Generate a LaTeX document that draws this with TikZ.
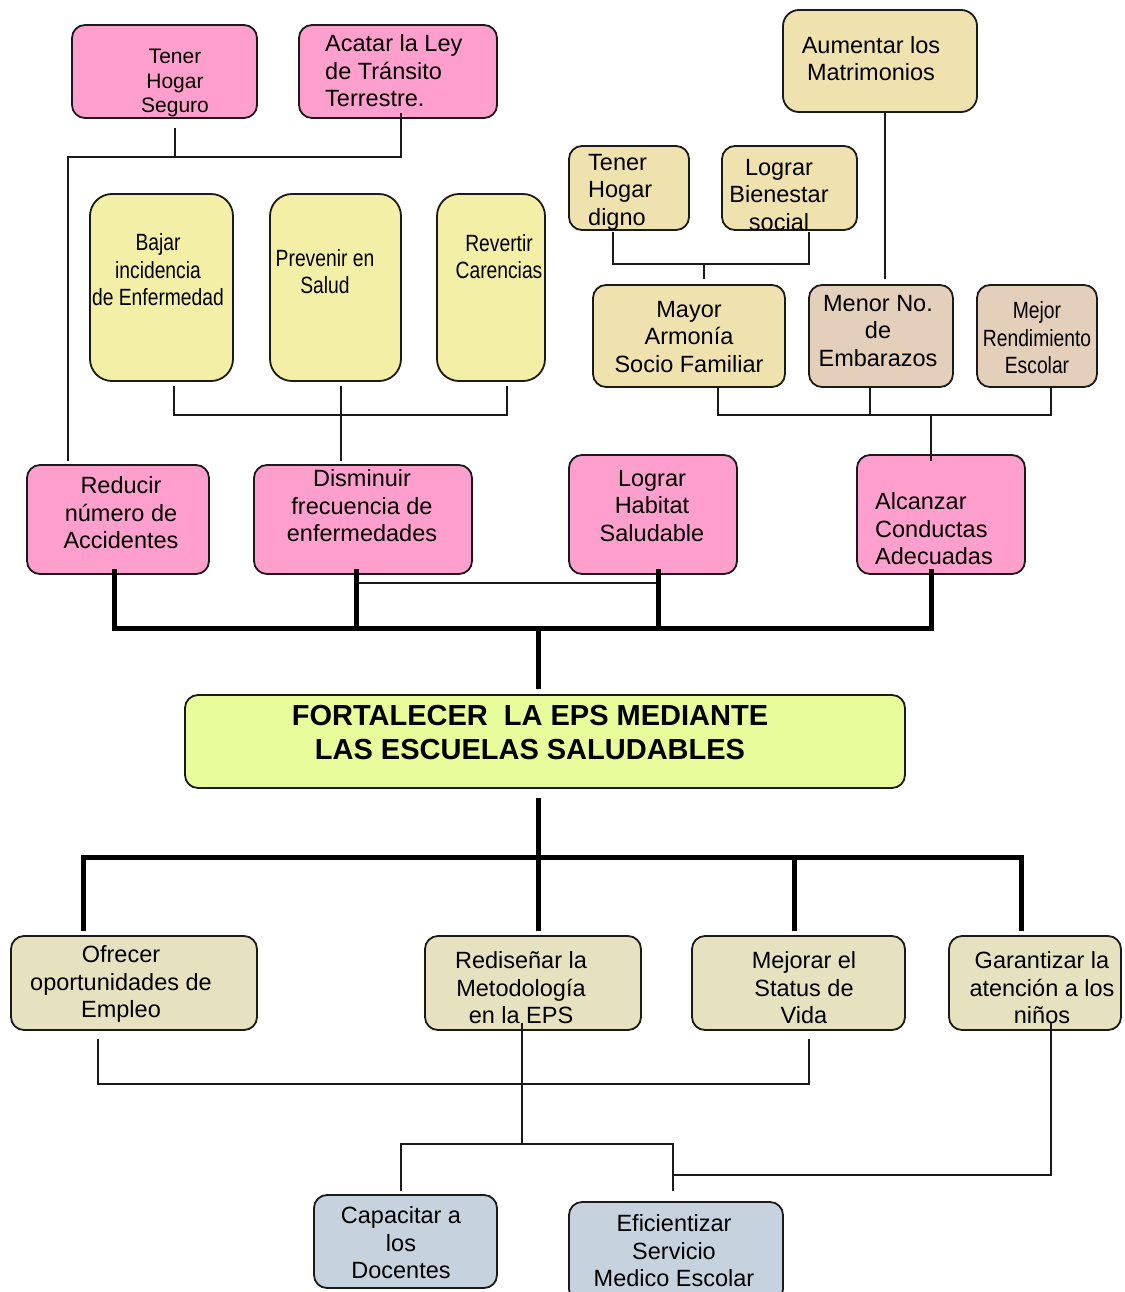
\documentclass[tikz,border=0pt]{standalone}
\usepackage{fontspec}
\setmainfont{Liberation Sans}
\newfontfamily\narrowfont[FakeStretch=0.82]{Liberation Sans}
\usetikzlibrary{calc}
\definecolor{cpink}{HTML}{FF9FCD}
\definecolor{cyel}{HTML}{F4EFA6}
\definecolor{ctan}{HTML}{F0E2AE}
\definecolor{cbrown}{HTML}{E4D0BA}
\definecolor{cmain}{HTML}{E8FC9C}
\definecolor{cbeige}{HTML}{E6E2BF}
\definecolor{cblue}{HTML}{C6D3DE}
\definecolor{cline}{HTML}{1A1A1A}
\tikzset{
  box/.style={draw=cline, line width=1.8pt, rounded corners=13pt, inner sep=0pt},
  pinkbox/.style={box, fill=cpink},
  yelbox/.style={box, fill=cyel, rounded corners=22pt},
  tanbox/.style={box, fill=ctan},
  brownbox/.style={box, fill=cbrown},
  mainbox/.style={box, fill=cmain},
  beigebox/.style={box, fill=cbeige},
  bluebox/.style={box, fill=cblue},
  txt/.style={inner sep=0pt, align=center, font=\fontsize{23.5}{27.5}\selectfont},
  ltxt/.style={inner sep=0pt, align=left, anchor=west, font=\fontsize{23.5}{27.5}\selectfont},
  ntxt/.style={inner sep=0pt, align=center, font=\narrowfont\fontsize{23.5}{27.5}\selectfont},
  thinline/.style={draw=cline, line width=2pt},
  thickline/.style={draw=black, line width=5pt},
}
\begin{document}
\begin{tikzpicture}[x=1pt,y=-1pt]
\clip (0,0) rectangle (1124,1292);
\fill[white] (0,0) rectangle (1124,1292);

% ---------- boxes ----------
\node[pinkbox, minimum width=185, minimum height=93] (a1) at (164.5,71.5) {};
\node[pinkbox, minimum width=198, minimum height=93] (a2) at (398,71.5) {};
\node[yelbox, minimum width=143, minimum height=187] (b1) at (161.5,287.5) {};
\node[yelbox, minimum width=131, minimum height=187] (b2) at (335.5,287.5) {};
\node[yelbox, minimum width=108, minimum height=187] (b3) at (491,287.5) {};
\node[pinkbox, minimum width=182, minimum height=109] (c1) at (118,519.5) {};
\node[pinkbox, minimum width=218, minimum height=109] (c2) at (363,519.5) {};
\node[pinkbox, minimum width=168, minimum height=119] (c3) at (653,514.5) {};
\node[pinkbox, minimum width=168, minimum height=119] (c4) at (941,514.5) {};
\node[tanbox, minimum width=194, minimum height=102, rounded corners=16pt] (d1) at (880,61) {};
\node[tanbox, minimum width=120, minimum height=84] (d2) at (629,188) {};
\node[tanbox, minimum width=135, minimum height=84] (d3) at (789.5,188) {};
\node[tanbox, minimum width=192, minimum height=102] (d4) at (689,336) {};
\node[brownbox, minimum width=144, minimum height=102] (d5) at (881,336) {};
\node[brownbox, minimum width=120, minimum height=102] (d6) at (1037,336) {};
\node[mainbox, minimum width=720, minimum height=93] (m) at (545,741.5) {};
\node[beigebox, minimum width=246, minimum height=94] (e1) at (134,983) {};
\node[beigebox, minimum width=216, minimum height=94] (e2) at (533,983) {};
\node[beigebox, minimum width=213, minimum height=94] (e3) at (798.5,983) {};
\node[beigebox, minimum width=172, minimum height=94] (e4) at (1035,983) {};
\node[bluebox, minimum width=183, minimum height=93] (f1) at (405.5,1241.5) {};
\node[bluebox, minimum width=214, minimum height=100] (f2) at (676,1252) {};

% ---------- texts ----------
\node[inner sep=0pt, align=center, font=\fontsize{21}{24.5}\selectfont] (ta1) at (175,83) {Tener\\Hogar\\Seguro};
\node[ltxt] (ta2) at (325,71) {Acatar la Ley\\de Tránsito\\Terrestre.};
\node[ntxt] (tb1) at (158,270) {Bajar\\incidencia\\de Enfermedad};
\node[ntxt] (tb2) at (325,271.5) {Prevenir en\\Salud};
\node[ntxt] (tb3) at (499,256.5) {Revertir\\Carencias};
\node[txt] (tc1) at (121,513) {Reducir\\número de\\Accidentes};
\node[txt] (tc2) at (362,506) {Disminuir\\frecuencia de\\enfermedades};
\node[txt] (tc3) at (652,506) {Lograr\\Habitat\\Saludable};
\node[ltxt] (tc4) at (875,529) {Alcanzar\\Conductas\\Adecuadas};
\node[txt] (td1) at (871,58.5) {Aumentar los\\Matrimonios};
\node[ltxt] (td2) at (588,192) {Tener\\Hogar\\digno};
\node[txt] (td3) at (779,195) {Lograr\\Bienestar\\social};
\node[txt] (td4) at (689,337) {Mayor\\Armonía\\Socio Familiar};
\node[txt] (td5) at (878,331) {Menor No.\\de\\Embarazos};
\node[ntxt] (td6) at (1037,338) {Mejor\\Rendimiento\\Escolar};
\node[inner sep=0pt, align=center, font=\bfseries\fontsize{29}{34}\selectfont] (tm) at (530,733) {FORTALECER~ LA EPS MEDIANTE\\LAS ESCUELAS SALUDABLES};
\node[txt] (te1) at (121,984) {Ofrecer\\oportunidades de\\Empleo};
\node[txt] (te2) at (521,988) {Rediseñar la\\Metodología\\en la EPS};
\node[txt] (te3) at (804,988) {Mejorar el\\Status de\\Vida};
\node[txt] (te4) at (1042,988) {Garantizar la\\atención a los\\niños};
\node[txt] (tf1) at (401,1243) {Capacitar a\\los\\Docentes};
\node[txt] (tf2) at (674,1251) {Eficientizar\\Servicio\\Medico Escolar};

% ---------- junction coordinates ----------
\coordinate (ja) at (175,157);
\coordinate (jb) at (341,415);
\coordinate (jd) at (704,264);
\coordinate (je) at (931,415);
\coordinate (je5) at (870,415);
\coordinate (jt) at (538,628);
\coordinate (jt2) at (356,628);
\coordinate (jt3) at (658,628);
\coordinate (jh2) at (356,583);
\coordinate (jh3) at (658,583);
\coordinate (jb0) at (538,857);
\coordinate (jb3) at (794,857);
\coordinate (jf) at (98,1084);
\coordinate (jg) at (522,1144);
\coordinate (jk) at (673,1175);

% ---------- thin connectors ----------
\draw[thinline] ([shift={(10.5,9)}]a1.south) -- (ja);
\draw[thinline] ([shift={(3,-6)}]a2.south) |- (ja) -| ([shift={(-50,-3)}]c1.north);
\draw[thinline] ([shift={(12.5,4)}]b1.south) |- (jb) -| ([shift={(16,4)}]b3.south);
\draw[thinline] ([shift={(5.5,4)}]b2.south) -- ([shift={(-22,-3)}]c2.north);
\draw[thinline] ([shift={(-16,1)}]d2.south) |- (jd) -| ([shift={(19.5,1)}]d3.south);
\draw[thinline] (jd) -- ([shift={(15,-5)}]d4.north);
\draw[thinline] ([xshift=5]d1.south) -- ([shift={(4,-5)}]d5.north);
\draw[thinline] ([xshift=29]d4.south) |- (je) -| ([xshift=14]d6.south);
\draw[thinline] ([xshift=-11]d5.south) -- (je5);
\draw[thinline] (je) -- ([shift={(-10,7)}]c4.north);
\draw[thinline] (jh2) -- (jh3);
\draw[thinline] ([shift={(-36,8)}]e1.south) -- (jf) -| ([shift={(10.5,8)}]e3.south);
\draw[thinline] ([shift={(-11,-8)}]e2.south) -- (jg);
\draw[thinline] ([shift={(-4.5,-3)}]f1.north) |- (jg) -| ([shift={(-3,-10)}]f2.north);
\draw[thinline] ([shift={(16,-8)}]e4.south) |- (jk);

% ---------- thick connectors ----------
\draw[thickline] ([shift={(-4,-6)}]c1.south) |- (jt) -| ([shift={(-10,-6)}]c4.south);
\draw[thickline] ([shift={(-7,-6)}]c2.south) -- (jt2);
\draw[thickline] ([shift={(5,-6)}]c3.south) -- (jt3);
\draw[thickline] (jt) -- ([shift={(-7,-5)}]m.north);
\draw[thickline] ([shift={(-7,9)}]m.south) -- ([shift={(5,-4)}]e2.north);
\draw[thickline] ([shift={(-51,-4)}]e1.north) |- (jb0) -| ([shift={(-14,-4)}]e4.north);
\draw[thickline] ([shift={(-4.5,-4)}]e3.north) -- (jb3);
\end{tikzpicture}
\end{document}
